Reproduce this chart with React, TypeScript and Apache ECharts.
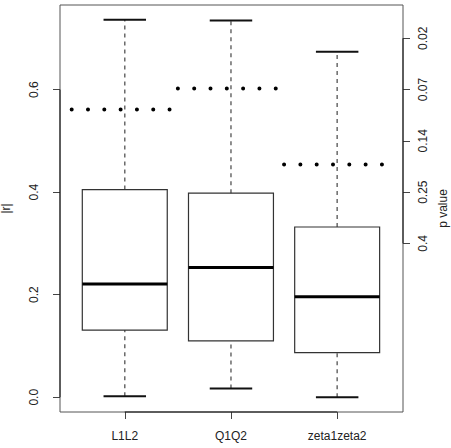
import React, { useEffect, useRef } from "react";
import * as echarts from "echarts";

// Correlation magnitude |r| per comparison, summarised as boxplot statistics
const categories = ["L1L2", "Q1Q2", "zeta1zeta2"];
const upperWhisker = [0.736, 0.735, 0.674];
const upperQuartile = [0.405, 0.398, 0.332];
const medians = [0.221, 0.253, 0.196];
const lowerQuartile = [0.131, 0.11, 0.087];
const lowerWhisker = [0.002, 0.017, 0.0];

// |r| threshold drawn as a dotted reference line across each group
const thresholdR = [0.561, 0.602, 0.454];

// Left axis ticks (|r|) and right axis ticks (p value at given |r|)
const rTicks = [0, 0.2, 0.4, 0.6];
const pValueTicks = [0.3, 0.4, 0.5, 0.6, 0.7];
const pValueLabels = ["0.4", "0.25", "0.14", "0.07", "0.02"];

const FONT = "'Liberation Sans', Arial, Helvetica, sans-serif";
const X_MIN = 0.39;
const X_MAX = 3.62;
const Y_MIN = -0.0288;
const Y_MAX = 0.765;
const BOX_WIDTH = 0.8;

export default function App() {
  const ref = useRef<HTMLDivElement>(null);

  useEffect(() => {
    if (!ref.current) return;
    const chart = echarts.init(ref.current, null, { renderer: "svg" });

    const boxData = categories.map((_, i) => [
      i + 1,
      lowerWhisker[i],
      lowerQuartile[i],
      medians[i],
      upperQuartile[i],
      upperWhisker[i],
    ]);

    const renderBox = (params: any, api: any) => {
      const x = api.value(0);
      const lo = api.coord([x, api.value(1)]);
      const q1 = api.coord([x, api.value(2)]);
      const md = api.coord([x, api.value(3)]);
      const q3 = api.coord([x, api.value(4)]);
      const hi = api.coord([x, api.value(5)]);
      const half = api.size([BOX_WIDTH, 0])[0] / 2;
      const capHalf = half / 2;
      const cx = lo[0];
      const whiskerStyle = { stroke: "#6a6a6a", lineWidth: 1.5, lineDash: [4, 4] };
      return {
        type: "group",
        children: [
          { type: "line", shape: { x1: cx, y1: q3[1], x2: cx, y2: hi[1] }, style: whiskerStyle },
          { type: "line", shape: { x1: cx, y1: lo[1], x2: cx, y2: q1[1] }, style: whiskerStyle },
          { type: "line", shape: { x1: cx - capHalf, y1: hi[1], x2: cx + capHalf, y2: hi[1] }, style: { stroke: "#111", lineWidth: 2 } },
          { type: "line", shape: { x1: cx - capHalf, y1: lo[1], x2: cx + capHalf, y2: lo[1] }, style: { stroke: "#111", lineWidth: 2 } },
          {
            type: "rect",
            shape: { x: cx - half, y: q3[1], width: half * 2, height: q1[1] - q3[1] },
            style: { fill: "none", stroke: "#333", lineWidth: 1.2 },
          },
          { type: "line", shape: { x1: cx - half, y1: md[1], x2: cx + half, y2: md[1] }, style: { stroke: "#000", lineWidth: 3 } },
        ],
      };
    };

    const thresholdSeries = categories.map((_, i) => ({
      type: "line",
      silent: true,
      symbol: "none",
      clip: false,
      data: [
        [i + 1 - 0.5, thresholdR[i]],
        [i + 1 + 0.5, thresholdR[i]],
      ],
      lineStyle: { color: "#000", width: 4, type: [0.01, 16.3], cap: "round" },
    }));

    const axisSegment = (data: number[][], yAxisIndex = 0) => ({
      type: "line",
      silent: true,
      symbol: "none",
      clip: false,
      yAxisIndex,
      data,
      lineStyle: { color: "#111", width: 1 },
    });

    const labelStyle = { fontFamily: FONT, fontSize: 12, color: "#222" };

    chart.setOption({
      animation: false,
      backgroundColor: "#fff",
      grid: {
        left: 60,
        right: 48,
        top: 5,
        bottom: 36,
        containLabel: false,
        outerBoundsMode: "none",
        show: true,
        borderColor: "#555",
        borderWidth: 1,
        backgroundColor: "transparent",
      },
      xAxis: {
        type: "value",
        min: X_MIN,
        max: X_MAX,
        axisLine: { show: false, onZero: false },
        splitLine: { show: false },
        axisTick: { show: true, inside: false, length: 7, customValues: [1, 2, 3], lineStyle: { color: "#444" } },
        axisLabel: {
          ...labelStyle,
          customValues: [1, 2, 3],
          margin: 18,
          formatter: (v: number) => categories[Math.round(v) - 1],
        },
      },
      yAxis: [
        {
          type: "value",
          position: "left",
          min: Y_MIN,
          max: Y_MAX,
          axisLine: { show: false, onZero: false },
          splitLine: { show: false },
          axisTick: { show: true, inside: false, length: 7, customValues: rTicks, lineStyle: { color: "#444" } },
          axisLabel: {
            ...labelStyle,
            customValues: rTicks,
            rotate: 90,
            margin: 20,
            formatter: (v: number) => v.toFixed(1),
          },
          name: "|r|",
          nameLocation: "middle",
          nameRotate: 90,
          nameGap: 48,
          nameTextStyle: labelStyle,
        },
        {
          type: "value",
          position: "right",
          min: Y_MIN,
          max: Y_MAX,
          axisLine: { show: false, onZero: false },
          splitLine: { show: false },
          axisTick: { show: true, inside: false, length: 7, customValues: pValueTicks, lineStyle: { color: "#444" } },
          axisLabel: {
            ...labelStyle,
            customValues: pValueTicks,
            rotate: 90,
            margin: 14,
            formatter: (v: number) => {
              const idx = pValueTicks.findIndex((t) => Math.abs(t - v) < 1e-9);
              return idx >= 0 ? pValueLabels[idx] : "";
            },
          },
          name: "p value",
          nameLocation: "middle",
          nameRotate: 90,
          nameGap: 32,
          nameTextStyle: labelStyle,
        },
      ],
      series: [
        axisSegment([[X_MIN, rTicks[0]], [X_MIN, rTicks[rTicks.length - 1]]]),
        axisSegment([[X_MAX, pValueTicks[0]], [X_MAX, pValueTicks[pValueTicks.length - 1]]], 1),
        axisSegment([[1, Y_MIN], [categories.length, Y_MIN]]),
        ...thresholdSeries,
        {
          type: "custom",
          silent: true,
          renderItem: renderBox,
          encode: { x: 0, y: [1, 2, 3, 4, 5] },
          data: boxData,
          z: 3,
        },
      ],
    });

    return () => chart.dispose();
  }, []);

  return (
    <div
      ref={ref}
      style={{ position: "fixed", left: 0, top: 0, width: 451, height: 448, background: "#fff" }}
    />
  );
}
